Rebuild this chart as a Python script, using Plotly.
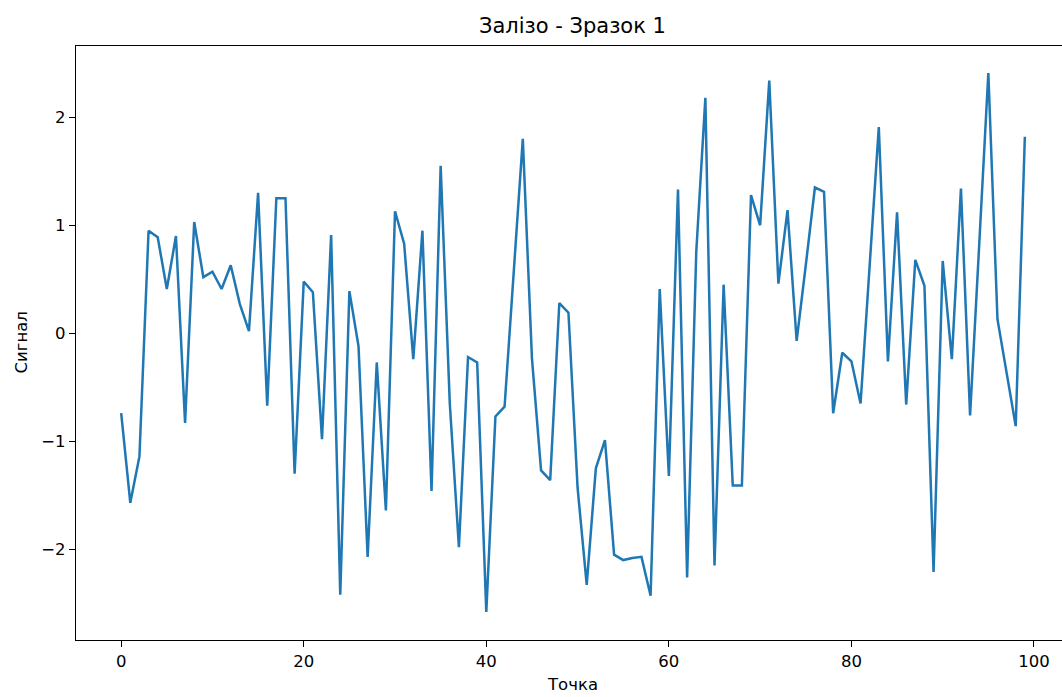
import plotly.graph_objects as go

# Signal samples, one per measurement point
points = list(range(100))
signal = [
    -0.74, -1.57, -1.14, 0.95, 0.89, 0.41, 0.90, -0.83, 1.03, 0.52,
    0.57, 0.41, 0.63, 0.27, 0.02, 1.30, -0.67, 1.25, 1.25, -1.30,
    0.48, 0.38, -0.98, 0.91, -2.42, 0.39, -0.12, -2.07, -0.27, -1.64,
    1.13, 0.83, -0.24, 0.95, -1.46, 1.55, -0.65, -1.98, -0.22, -0.27,
    -2.58, -0.77, -0.68, 0.57, 1.80, -0.23, -1.27, -1.36, 0.28, 0.19,
    -1.43, -2.33, -1.25, -0.99, -2.05, -2.10, -2.08, -2.07, -2.43, 0.41,
    -1.32, 1.33, -2.26, 0.75, 2.18, -2.15, 0.45, -1.41, -1.41, 1.28,
    1.00, 2.34, 0.46, 1.14, -0.07, 0.63, 1.35, 1.31, -0.74, -0.18,
    -0.26, -0.65, 0.63, 1.91, -0.26, 1.12, -0.66, 0.68, 0.44, -2.21,
    0.67, -0.24, 1.34, -0.76, 0.82, 2.41, 0.13, -0.36, -0.86, 1.82,
]
x_ticks = [0, 20, 40, 60, 80, 100]
y_ticks = [-2, -1, 0, 1, 2]

title_text = "Залізо - Зразок 1"
x_label = "Точка"
y_label = "Сигнал"

FONT = "DejaVu Sans"
TICK_SIZE = 16.5

fig = go.Figure()
fig.add_trace(go.Scatter(
    x=points, y=signal, mode="lines",
    line=dict(color="#1f77b4", width=2.5),
    showlegend=False, hoverinfo="x+y",
))

fig.update_layout(
    width=1062, height=697,
    margin=dict(l=76, r=0, t=46, b=57),
    paper_bgcolor="white", plot_bgcolor="white",
    font=dict(family=FONT, size=TICK_SIZE, color="black"),
    annotations=[
        dict(text=title_text, xref="paper", yref="paper", x=0.504, y=1,
             xanchor="center", yanchor="bottom", yshift=6, showarrow=False,
             font=dict(family=FONT, size=21, color="black")),
        dict(text=x_label, xref="paper", yref="paper", x=0.504, y=0,
             xanchor="center", yanchor="top", yshift=-33, showarrow=False,
             font=dict(family=FONT, size=TICK_SIZE, color="black")),
        dict(text=y_label, xref="paper", yref="paper", x=0, y=0.5,
             xanchor="right", yanchor="middle", xshift=-44, textangle=-90,
             showarrow=False, font=dict(family=FONT, size=TICK_SIZE, color="black")),
    ],
)

fig.update_xaxes(
    range=[-4.95, 103.07], tickvals=x_ticks, ticks="outside", ticklen=6,
    tickwidth=1.3, tickcolor="black", showline=True, linecolor="black",
    linewidth=1.4, mirror=True, showgrid=False, zeroline=False,
    tickfont=dict(family=FONT, size=TICK_SIZE),
)
fig.update_yaxes(
    range=[-2.84, 2.66], tickvals=y_ticks, ticks="outside", ticklen=6,
    tickwidth=1.3, tickcolor="black", showline=True, linecolor="black",
    linewidth=1.4, mirror=False, showgrid=False, zeroline=False,
    tickfont=dict(family=FONT, size=TICK_SIZE),
)

fig.write_html("out.html")
